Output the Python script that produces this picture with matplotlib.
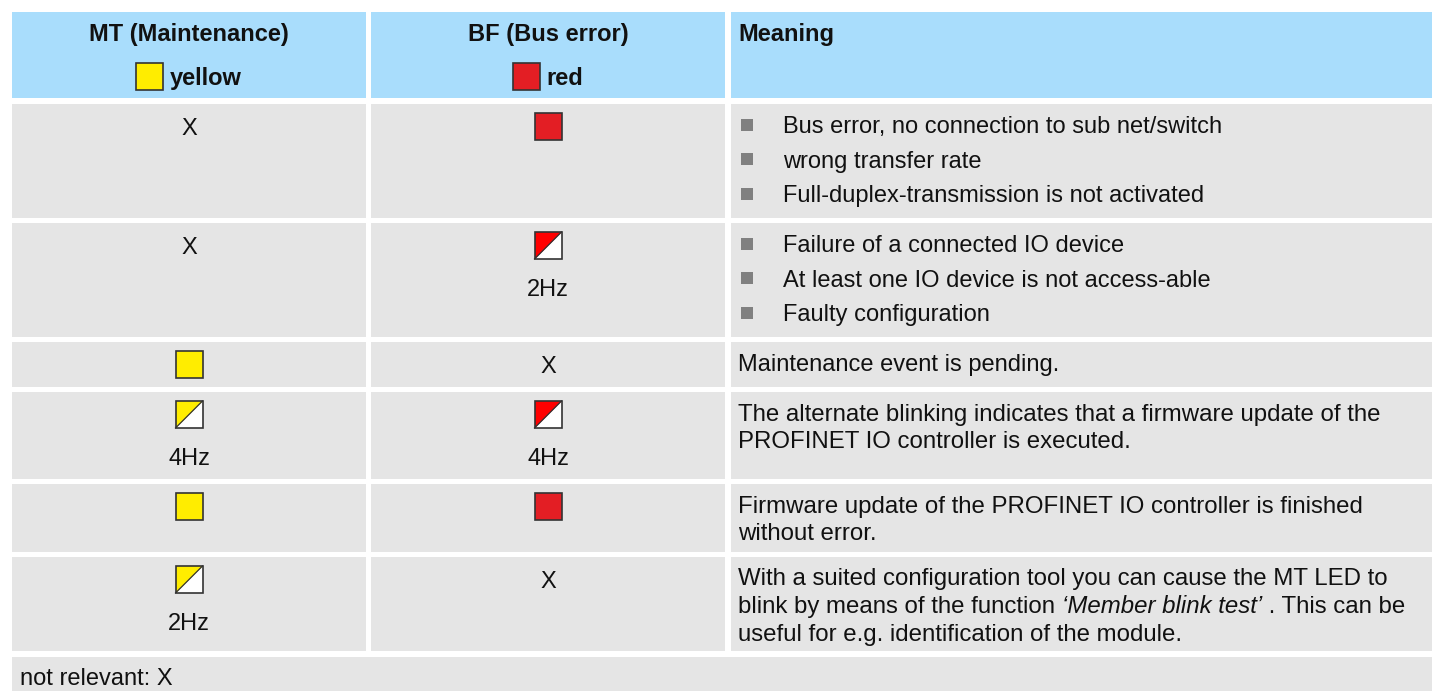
import matplotlib
matplotlib.use("Agg")
import matplotlib.pyplot as plt
from matplotlib.patches import Rectangle, Polygon
from matplotlib import font_manager

# Table content
headers = ["MT (Maintenance)", "BF (Bus error)", "Meaning"]
header_leds = ["yellow", "red"]
mt_state = ["X", "X", "on", "blink", "on", "blink"]
mt_freq = ["", "", "", "4Hz", "", "2Hz"]
bf_state = ["on", "blink", "X", "blink", "on", "X"]
bf_freq = ["", "2Hz", "", "4Hz", "", ""]
meaning_bullets = [True, True, False, False, False, False]
meaning = [
    ["Bus error, no connection to sub net/switch",
     "wrong transfer rate",
     "Full-duplex-transmission is not activated"],
    ["Failure of a connected IO device",
     "At least one IO device is not access-able",
     "Faulty configuration"],
    ["Maintenance event is pending."],
    ["The alternate blinking indicates that a firmware update of the",
     "PROFINET IO controller is executed."],
    ["Firmware update of the PROFINET IO controller is finished",
     "without error."],
    ["With a suited configuration tool you can cause the MT LED to",
     "blink by means of the function *\u2018Member blink test\u2019* . This can be",
     "useful for e.g. identification of the module."],
]
footnote = "not relevant: X"

# Layout (pixels)
W, H = 1432, 691
col_x = [(12, 366), (371, 725), (731, 1432)]
header_y = (12, 98)
row_y = [(104, 218), (223, 337), (342, 387), (392, 479), (484, 552), (557, 651)]
foot_y = (657, 700)

HEAD_BG = "#A9DDFC"
CELL_BG = "#E5E5E5"
TXT = "#111111"
EDGE = "#333333"
led_on = {"yellow": "#FFED00", "red": "#E31E24"}
led_blink = {"yellow": "#FFED00", "red": "#FF0000"}
mt_col, bf_col = "yellow", "red"

names = {f.name for f in font_manager.fontManager.ttflist}
REG = "Liberation Sans"
NARROW = "Liberation Sans Narrow" if "Liberation Sans Narrow" in names else "Liberation Sans"
narrow_rows = [False, False, False, True, True, True]
FS = 17
FS_NARROW = 17.3 if NARROW == "Liberation Sans" else 20.5
CAP = FS * 100 / 72 * 0.716
LED = 27

fig = plt.figure(figsize=(W / 100, H / 100), dpi=100)
ax = fig.add_axes([0, 0, 1, 1])
ax.set_xlim(0, W)
ax.set_ylim(H, 0)
ax.axis("off")
renderer = fig.canvas.get_renderer()


def cell(x0, x1, y0, y1, color):
    ax.add_patch(Rectangle((x0, y0), x1 - x0, y1 - y0, facecolor=color, edgecolor="none"))


def led(cx, top, color, blink):
    x0 = cx - LED / 2
    if blink:
        ax.add_patch(Rectangle((x0, top), LED, LED, facecolor="white", edgecolor="none"))
        ax.add_patch(Polygon([(x0, top + LED), (x0, top), (x0 + LED, top)],
                             closed=True, facecolor=color, edgecolor="none"))
        ax.plot([x0, x0 + LED], [top + LED, top], color=EDGE, lw=0.9)
    else:
        ax.add_patch(Rectangle((x0, top), LED, LED, facecolor=color, edgecolor="none"))
    ax.add_patch(Rectangle((x0, top), LED, LED, facecolor="none", edgecolor=EDGE, lw=1.2))


def text_width(t):
    return t.get_window_extent(renderer).width


# Header
for (x0, x1) in col_x:
    cell(x0, x1, header_y[0], header_y[1], HEAD_BG)
for i in range(2):
    cx = (col_x[i][0] + col_x[i][1]) / 2
    ax.text(cx, 41, headers[i], ha="center", va="baseline", fontsize=FS,
            fontweight="bold", family=REG, color=TXT)
    lab = ax.text(0, 85, header_leds[i], ha="left", va="baseline", fontsize=FS,
                  fontweight="bold", family=REG, color=TXT)
    tw = text_width(lab)
    gw = LED + 7 + tw
    start = cx - gw / 2
    lab.set_x(start + LED + 7)
    led(start + LED / 2, 63, led_on[header_leds[i]], False)
ax.text(col_x[2][0] + 7, 41, headers[2], ha="left", va="baseline", fontsize=FS,
        fontweight="bold", family=REG, color=TXT)

# Body rows
for r, (y0, y1) in enumerate(row_y):
    for (x0, x1) in col_x:
        cell(x0, x1, y0, y1, CELL_BG)
    for ci, (state, freq, colname) in enumerate([(mt_state[r], mt_freq[r], mt_col),
                                                 (bf_state[r], bf_freq[r], bf_col)]):
        cx = (col_x[ci][0] + col_x[ci][1]) / 2
        top = y0 + 9
        if state == "X":
            ax.text(cx, top + LED / 2 + CAP / 2, "X", ha="center", va="baseline",
                    fontsize=FS, family=REG, color=TXT)
        else:
            col = led_blink[colname] if state == "blink" else led_on[colname]
            led(cx, top, col, state == "blink")
        if freq:
            ax.text(cx, y0 + 73, freq, ha="center", va="baseline", fontsize=FS,
                    family=REG, color=TXT)

    fam = NARROW if narrow_rows[r] else REG
    fs = FS_NARROW if narrow_rows[r] else FS
    lines = meaning[r]
    if meaning_bullets[r]:
        base0, step, tx = y0 + 29, 34.5, 783
    elif narrow_rows[r]:
        base0, step, tx = y0 + 28.5, 27.5, 738
    else:
        base0, step, tx = y0 + 29, 34.5, 738
    for k, line in enumerate(lines):
        yb = base0 + k * step
        if meaning_bullets[r]:
            ax.add_patch(Rectangle((741, yb - CAP / 2 - 6), 12, 12,
                                   facecolor="#808080", edgecolor="none"))
        x = tx
        for j, seg in enumerate(line.split("*")):
            if not seg:
                continue
            t = ax.text(x, yb, seg, ha="left", va="baseline", fontsize=fs, family=fam,
                        style="italic" if j % 2 else "normal", color=TXT)
            x += text_width(t)

# Footnote row
cell(12, W, foot_y[0], foot_y[1], CELL_BG)
ax.text(20, 685, footnote, ha="left", va="baseline", fontsize=FS, family=REG, color=TXT)

fig.savefig("out.png", dpi=100, facecolor="white")
